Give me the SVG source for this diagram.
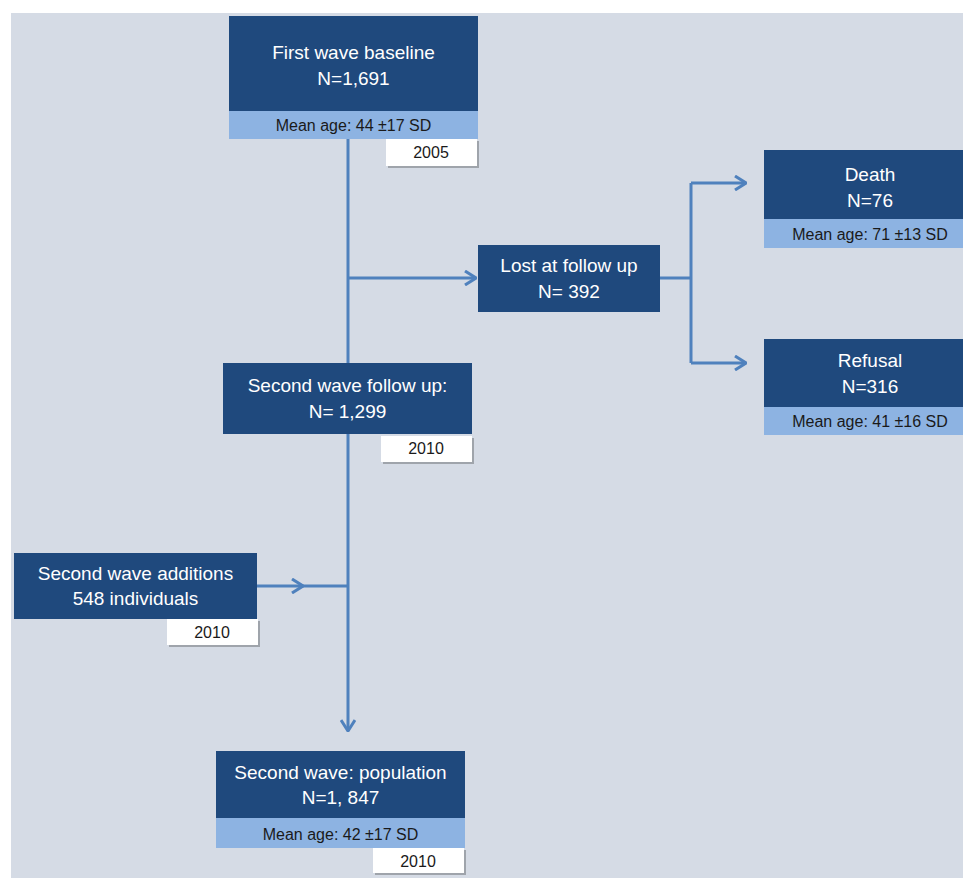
<svg xmlns="http://www.w3.org/2000/svg" width="963" height="878" viewBox="0 0 963 878">
<defs>
<style>
.dark{fill:#1F497D}
.light{fill:#8DB3E2}
.yr{fill:#ffffff}
.sh{fill:#000000;opacity:0.25}
.t{font-family:"Liberation Sans",Arial,sans-serif;font-size:19px;fill:#ffffff;text-anchor:middle}
.m{font-family:"Liberation Sans",Arial,sans-serif;font-size:16px;fill:#1a1a1a;text-anchor:middle}
.ln{fill:none;stroke:#4F81BD;stroke-width:3}
</style>
<marker id="arr" viewBox="0 0 14 16" refX="13" refY="8" markerWidth="14" markerHeight="16" markerUnits="userSpaceOnUse" orient="auto">
<path d="M2,1 L13,8 L2,15" fill="none" stroke="#4F81BD" stroke-width="3"/>
</marker>
</defs>
<rect x="0" y="0" width="963" height="878" fill="#ffffff"/>
<rect x="11" y="13" width="952" height="865" fill="#D5DBE5"/>

<g id="connectors">
<path class="ln" d="M348,139 L348,363"/>
<path class="ln" d="M348,278 L476,278" marker-end="url(#arr)"/>
<path class="ln" d="M660,278 L691,278"/>
<path class="ln" d="M691,183 L691,363"/>
<path class="ln" d="M691,183 L746,183" marker-end="url(#arr)"/>
<path class="ln" d="M691,363 L746,363" marker-end="url(#arr)"/>
<path class="ln" d="M257,586 L303,586" marker-end="url(#arr)"/>
<path class="ln" d="M300,586 L348,586"/>
<path class="ln" d="M348,434 L348,731" marker-end="url(#arr)"/>
</g>

<g id="first-wave">
<rect class="dark" x="229" y="16" width="249" height="95"/>
<rect class="light" x="229" y="111" width="249" height="28"/>
<text class="t" x="353.5" y="59">First wave baseline</text>
<text class="t" x="353.5" y="85">N=1,691</text>
<text class="m" x="353.5" y="131">Mean age: 44 ±17 SD</text>
<rect class="sh" x="388" y="141" width="91" height="27"/>
<rect class="yr" x="386" y="139" width="91" height="27"/>
<text class="m" x="431" y="158">2005</text>
</g>

<g id="lost">
<rect class="dark" x="478" y="245" width="182" height="67"/>
<text class="t" x="569" y="272">Lost at follow up</text>
<text class="t" x="569" y="298">N= 392</text>
</g>

<g id="death">
<rect class="dark" x="764" y="150" width="212" height="69"/>
<rect class="light" x="764" y="219" width="212" height="29"/>
<text class="t" x="870" y="181">Death</text>
<text class="t" x="870" y="207">N=76</text>
<text class="m" x="870" y="240">Mean age: 71 ±13 SD</text>
</g>

<g id="refusal">
<rect class="dark" x="764" y="339" width="212" height="68"/>
<rect class="light" x="764" y="407" width="212" height="28"/>
<text class="t" x="870" y="367">Refusal</text>
<text class="t" x="870" y="393">N=316</text>
<text class="m" x="870" y="427">Mean age: 41 ±16 SD</text>
</g>

<g id="second-follow">
<rect class="dark" x="223" y="363" width="249" height="71"/>
<text class="t" x="347.5" y="392">Second wave follow up:</text>
<text class="t" x="347.5" y="418">N= 1,299</text>
<rect class="sh" x="383" y="438" width="91" height="26"/>
<rect class="yr" x="381" y="436" width="91" height="26"/>
<text class="m" x="426" y="454">2010</text>
</g>

<g id="additions">
<rect class="dark" x="14" y="553" width="243" height="66"/>
<text class="t" x="135.5" y="580">Second wave additions</text>
<text class="t" x="135.5" y="605">548 individuals</text>
<rect class="sh" x="169" y="621" width="91" height="26"/>
<rect class="yr" x="167" y="619" width="91" height="26"/>
<text class="m" x="212" y="638">2010</text>
</g>

<g id="population">
<rect class="dark" x="216" y="751" width="249" height="67"/>
<rect class="light" x="216" y="818" width="249" height="30"/>
<text class="t" x="340.5" y="779">Second wave: population</text>
<text class="t" x="340.5" y="804">N=1, 847</text>
<text class="m" x="340.5" y="840">Mean age: 42 ±17 SD</text>
<rect class="sh" x="375" y="850" width="91" height="25"/>
<rect class="yr" x="373" y="848" width="91" height="25"/>
<text class="m" x="418" y="867">2010</text>
</g>
</svg>
